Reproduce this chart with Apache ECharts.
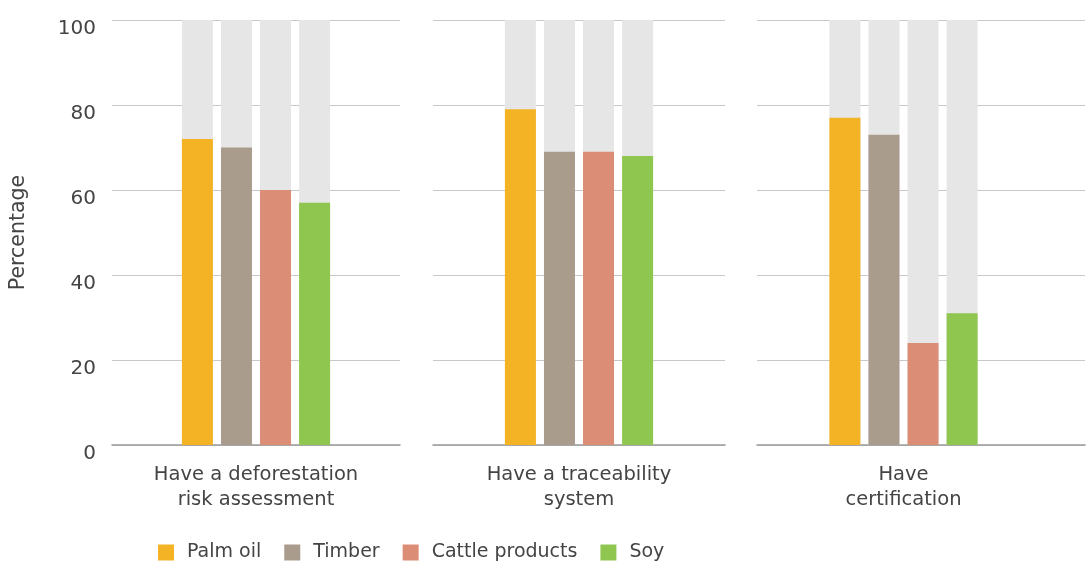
<!DOCTYPE html>
<html>
<head>
<meta charset="utf-8">
<script src="https://cdn.jsdelivr.net/npm/echarts@6/dist/echarts.min.js"></script>
<style>html,body{margin:0;padding:0;background:#fff}#c{width:1090px;height:567px}</style>
</head>
<body>
<div id="c"></div>
<script>
const categories = ['Have a deforestation\nrisk assessment', 'Have a traceability\nsystem', 'Have\ncertification'];
const commodities = ['Palm oil', 'Timber', 'Cattle products', 'Soy'];
const palmOil = [72, 79, 77];
const timber = [70, 69, 73];
const cattle = [60, 69, 24];
const soy = [57, 68, 31];
const yTicks = [0, 20, 40, 60, 80, 100];

const values = [palmOil, timber, cattle, soy];
const colors = ['#F4B324', '#AA9C8C', '#DC8D76', '#8FC650'];
const font = 'DejaVu Sans';

const grids = [
  {left: 112, width: 288, top: 20, height: 425},
  {left: 433, width: 292, top: 20, height: 425},
  {left: 757, width: 293, top: 20, height: 425},
  {left: 757, width: 328, top: 20, height: 425}
];
const xAxes = [], yAxes = [];
for (let g = 0; g < 4; g++) {
  const isBarGrid = g < 3;
  xAxes.push({
    type: 'category', gridIndex: g,
    data: isBarGrid ? [categories[g]] : [''],
    axisLine: {show: g !== 2, lineStyle: {color: '#9a9a9a', width: 1.5}},
    axisTick: {show: false},
    axisLabel: {show: isBarGrid, margin: 17, color: '#444', fontFamily: font, fontSize: 19.5, lineHeight: 25}
  });
  yAxes.push({
    type: 'value', gridIndex: g, min: yTicks[0], max: yTicks[yTicks.length - 1], interval: 20,
    axisLine: {show: false}, axisTick: {show: false},
    axisLabel: {show: g === 0, margin: 16, color: '#444', fontFamily: font, fontSize: 20, verticalAlign: 'top', lineHeight: 18},
    splitLine: {show: g !== 2, lineStyle: {color: '#c8c8c8', width: 1}},
    name: g === 0 ? 'Percentage' : '', nameLocation: 'middle', nameRotate: 90, nameGap: 83,
    nameTextStyle: {color: '#444', fontFamily: font, fontSize: 20.5}
  });
}
const series = [];
commodities.forEach((name, i) => {
  for (let g = 0; g < 3; g++) {
    series.push({
      name, type: 'bar', xAxisIndex: g, yAxisIndex: g,
      data: [values[i][g]], barWidth: 31, barGap: '26%',
      itemStyle: {color: colors[i]},
      showBackground: true, backgroundStyle: {color: '#e6e6e6'}
    });
  }
});
const chart = echarts.init(document.getElementById('c'));
chart.setOption({
  animation: false,
  color: colors,
  grid: grids,
  xAxis: xAxes,
  yAxis: yAxes,
  legend: {
    data: commodities, left: 153, bottom: 0, icon: 'rect', itemWidth: 16, itemHeight: 16, itemGap: 23,
    textStyle: {color: '#444', fontFamily: font, fontSize: 19, padding: [0, 0, 0, 8]}
  },
  series
});
</script>
</body>
</html>
